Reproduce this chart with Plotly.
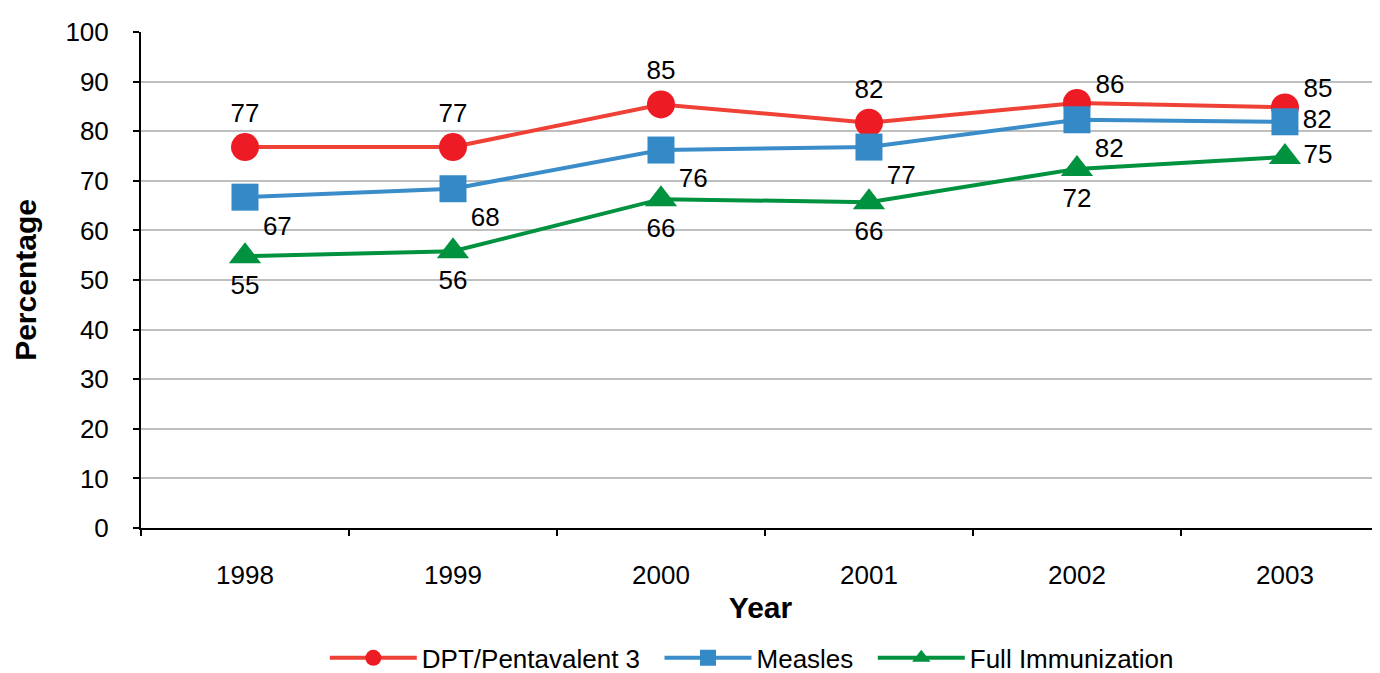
import plotly.graph_objects as go

years = ["1998", "1999", "2000", "2001", "2002", "2003"]
dpt = [76.8, 76.8, 85.4, 81.7, 85.7, 84.8]
measles = [66.7, 68.4, 76.2, 76.8, 82.3, 81.9]
full_imm = [54.8, 55.8, 66.3, 65.7, 72.4, 74.8]

dpt_pos = ["top center", "top center", "top center", "top center", "middle right", "middle right"]
measles_pos = ["bottom right", "bottom right", "bottom right", "bottom right", "bottom right", "middle right"]
full_pos = ["bottom center", "bottom center", "bottom center", "bottom center", "bottom center", "middle right"]

LBL = "%{y:.0f}"
dpt_tmpl = [LBL, LBL, LBL, LBL, LBL + "<br> ", LBL + "<br> "]

FONT = "Liberation Sans, Arial, sans-serif"
NB = "\u00a0\u00a0"

fig = go.Figure()
fig.add_trace(go.Scatter(
    x=years, y=dpt, name="DPT/Pentavalent 3" + NB, mode="lines+markers+text",
    line=dict(color="#EF4136", width=4),
    marker=dict(symbol="circle", size=28, color="#ED1C24"),
    texttemplate=dpt_tmpl, textposition=dpt_pos,
    textfont=dict(size=26, color="black", family=FONT),
))
fig.add_trace(go.Scatter(
    x=years, y=measles, name="Measles" + NB, mode="lines+markers+text",
    line=dict(color="#3A8DC8", width=4),
    marker=dict(symbol="square", size=27, color="#348AC6"),
    texttemplate=LBL, textposition=measles_pos,
    textfont=dict(size=26, color="black", family=FONT),
))
fig.add_trace(go.Scatter(
    x=years, y=full_imm, name="Full Immunization", mode="lines+markers+text",
    line=dict(color="#00923F", width=4),
    marker=dict(symbol="triangle-up", size=28, color="#00923F"),
    texttemplate=LBL, textposition=full_pos,
    textfont=dict(size=26, color="black", family=FONT),
))

fig.update_layout(
    width=1372, height=665,
    margin=dict(l=133, r=0, t=24, b=145, autoexpand=False),
    paper_bgcolor="white", plot_bgcolor="white",
    font=dict(family=FONT, size=26, color="black"),
    showlegend=True,
    legend=dict(orientation="h", x=0.493, xanchor="center", y=-0.262, yanchor="middle",
                font=dict(size=26, family=FONT), itemwidth=87, traceorder="normal"),
)
fig.update_xaxes(
    type="category", range=[-0.5, 5.457], automargin=False,
    showline=True, linecolor="black", linewidth=2,
    ticks="outside", ticklen=6, tickwidth=2, tickcolor="black", tickson="boundaries",
    showgrid=False, ticklabelstandoff=23,
    tickfont=dict(size=26, family=FONT),
    title=dict(text="<b>Year</b>", font=dict(size=30, family=FONT), standoff=8),
)
fig.update_yaxes(
    range=[0, 100], dtick=10, tick0=0, automargin=False,
    showline=True, linecolor="black", linewidth=2,
    ticks="outside", ticklen=6, tickwidth=2, tickcolor="black",
    showgrid=True, gridcolor="#BFBFBF", gridwidth=2, zeroline=False,
    ticklabelstandoff=19,
    tickfont=dict(size=26, family=FONT),
    title=dict(text="<b>Percentage</b>", font=dict(size=30, family=FONT), standoff=20),
)

fig.write_html("out.html")
